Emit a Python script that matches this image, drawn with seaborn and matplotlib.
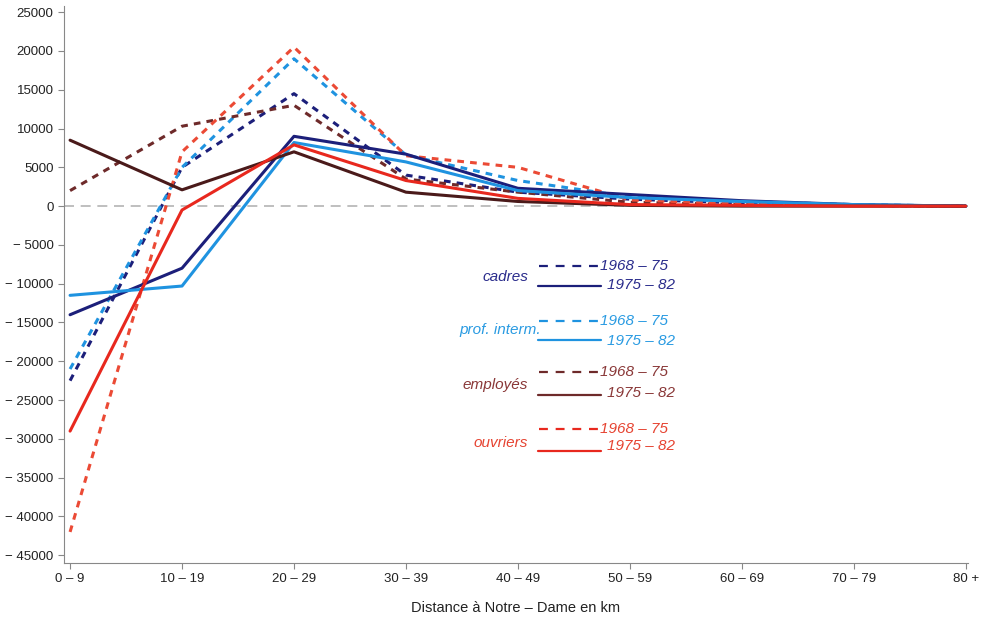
import matplotlib
matplotlib.use('Agg')
import matplotlib.pyplot as plt
import seaborn as sns
import pandas as pd

# distance classes and net migration values
classes = ['0 – 9', '10 – 19', '20 – 29', '30 – 39', '40 – 49', '50 – 59', '60 – 69', '70 – 79', '80 +']
cadres_6875 = [-22500, 5000, 14500, 4000, 1800, 900, 400, 100, 0]
cadres_7582 = [-14000, -8000, 9000, 6700, 2300, 1500, 700, 200, 0]
interm_6875 = [-21000, 5000, 19000, 6600, 3300, 1200, 600, 200, 0]
interm_7582 = [-11500, -10300, 8200, 5700, 2000, 1100, 600, 200, 0]
employes_6875 = [2000, 10300, 13000, 3500, 1800, 500, 200, 100, 0]
employes_7582 = [8500, 2100, 7000, 1800, 600, 100, 0, 0, 0]
ouvriers_6875 = [-42000, 7000, 20500, 6500, 5000, 800, 300, 100, 0]
ouvriers_7582 = [-29000, -500, 7900, 3300, 1000, 200, 100, 0, 0]
yticks = list(range(-45000, 25001, 5000))

navy = '#1c1f7a'
sky = '#1f93e0'
brown = '#4a1a1a'
brown2 = '#6e2a2a'
red = '#e8281e'
red2 = '#eb4a35'

series = [
    (cadres_6875, navy, True),
    (interm_6875, sky, True),
    (employes_6875, brown2, True),
    (ouvriers_6875, red2, True),
    (cadres_7582, navy, False),
    (interm_7582, sky, False),
    (employes_7582, brown, False),
    (ouvriers_7582, red, False),
]

sns.set_style('ticks')
plt.rcParams['font.family'] = ['Liberation Sans', 'DejaVu Sans']

fig = plt.figure(figsize=(9.82, 6.24), dpi=100)
ax = fig.add_axes([0.0652, 0.0978, 0.9205, 0.8926])

ax.axhline(0, color='#b4b4b4', lw=1.2, dashes=(6, 4), zorder=1)

for vals, col, dashed in series:
    df = pd.DataFrame({'x': range(len(classes)), 'y': vals})
    if dashed:
        sns.lineplot(data=df, x='x', y='y', ax=ax, color=col, lw=2.2,
                     linestyle=(0, (2.2, 2.0)), zorder=2)
    else:
        sns.lineplot(data=df, x='x', y='y', ax=ax, color=col, lw=2.2, zorder=3)

ax.set_xlim(-0.054, 8.02)
ax.set_ylim(-46000, 25800)
ax.set_xticks(range(len(classes)))
ax.set_xticklabels(classes, fontsize=9.5, color='#222222')
ax.set_yticks(yticks)
ax.set_yticklabels([str(v).replace('-', '− ') for v in yticks], fontsize=9.5, color='#222222')
ax.set_xlabel('Distance à Notre – Dame en km', fontsize=10.5, color='#222222', labelpad=11)
ax.set_ylabel('')
sns.despine(ax=ax)
for s in ['left', 'bottom']:
    ax.spines[s].set_color('#888888')
ax.tick_params(colors='#888888', labelcolor='#222222', length=4)

# hand-made legend, pixel positions in the figure
W, H = 982, 624
def fx(px):
    return px / W
def fy(py):
    return 1 - py / H

legend = [
    ('cadres', '#2a2c8c', navy, 277, 266, 286, 285),
    ('prof. interm.', '#2a9be2', sky, 330, 321, 340, 341),
    ('employés', '#8a3838', brown2, 385, 372, 395, 393),
    ('ouvriers', '#e64432', red, 443, 429, 451, 446),
]
for name, tcol, lcol, ty, dy, sy, sty in legend:
    fig.text(fx(528) if name != 'prof. interm.' else fx(541), fy(ty), name, color=tcol,
             fontsize=11, style='italic', ha='right', va='center')
    fig.add_artist(plt.Line2D([fx(539), fx(598)], [fy(dy), fy(dy)], color=lcol, lw=1.6,
                              linestyle=(0, (4, 3.5))))
    fig.text(fx(600), fy(dy), '1968 – 75', color=tcol, fontsize=11, style='italic',
             ha='left', va='center')
    fig.add_artist(plt.Line2D([fx(538), fx(601)], [fy(sy), fy(sy)], color=lcol, lw=1.6))
    fig.text(fx(607), fy(sty), '1975 – 82', color=tcol, fontsize=11, style='italic',
             ha='left', va='center')

plt.savefig('out.png', dpi=100)
